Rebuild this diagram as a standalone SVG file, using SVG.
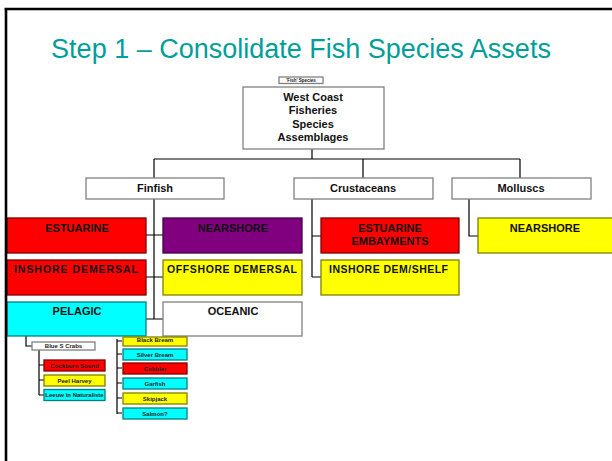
<svg xmlns="http://www.w3.org/2000/svg" width="612" height="461" viewBox="0 0 612 461">
<style>
text{font-family:"Liberation Sans",Arial,sans-serif;font-weight:bold;fill:#111;text-anchor:middle}
.title{font-weight:normal;font-size:27px;fill:#009E9A}
.hdr{font-size:11px}
.big{font-size:11px}
.mid{font-size:10.5px}
.sm{font-size:6px;fill:#222}
.wb{fill:#fff;stroke:#808080;stroke-width:1.3}
.red{fill:#FF0000;stroke:#800000;stroke-width:1.3}
.yel{fill:#FFFF00;stroke:#808000;stroke-width:1.3}
.cya{fill:#00FFFF;stroke:#008080;stroke-width:1.3}
.pur{fill:#800080;stroke:#400040;stroke-width:1.3}
.ln{fill:none;stroke:#000;stroke-width:1.2}
</style>
<rect width="612" height="461" fill="#fff"/>
<text class="title" x="301" y="58">Step 1 – Consolidate Fish Species Assets</text>

<g id="connectors" class="ln">
<path d="M312 149V159M154 159H520M154 159V178M363 159V178M520 159V178"/>
<path d="M154 199V319M146 235H163M146 277H163M146 319H163"/>
<path d="M312 199V277M312 236H321M312 277H321"/>
<path d="M469 199V236H478"/>
<path d="M26 336V346H32M39 350V395M39 365H44M39 380H44M39 395H44"/>
<path d="M117 339V414M117 341H122M117 354H122M117 368H122M117 383H122M117 398H122M117 413H122"/>
</g>

<g id="fish-species"><rect class="wb" x="279" y="77" width="44" height="6.5" stroke-width="0.8"/><text x="301" y="82" style="font-size:4.5px">'Fish' Species</text></g>
<g id="west-coast"><rect class="wb" x="243" y="87" width="141" height="62"/>
<text class="hdr" x="313" y="100.5">West Coast</text><text class="hdr" x="313" y="114">Fisheries</text><text class="hdr" x="313" y="127.5">Species</text><text class="hdr" x="313" y="141">Assemblages</text></g>

<g id="finfish"><rect class="wb" x="86" y="178" width="138" height="21"/><text class="hdr" x="155" y="192">Finfish</text></g>
<g id="crustaceans"><rect class="wb" x="294" y="178" width="139" height="21"/><text class="hdr" x="363" y="192">Crustaceans</text></g>
<g id="molluscs"><rect class="wb" x="452" y="178" width="139" height="21"/><text class="hdr" x="521" y="192">Molluscs</text></g>

<g id="estuarine"><rect class="red" x="7" y="218" width="139" height="35"/><text class="big" x="77" y="232">ESTUARINE</text></g>
<g id="nearshore-fin"><rect class="pur" x="163" y="218" width="139" height="35"/><text class="big" x="233" y="232">NEARSHORE</text></g>
<g id="inshore-demersal"><rect class="red" x="7" y="260" width="139" height="35"/><text class="mid" x="76" y="273" textLength="124" lengthAdjust="spacing">INSHORE DEMERSAL</text></g>
<g id="offshore-demersal"><rect class="yel" x="163" y="260" width="139" height="35"/><text class="mid" x="232" y="273" textLength="130" lengthAdjust="spacing">OFFSHORE DEMERSAL</text></g>
<g id="pelagic"><rect class="cya" x="7" y="302" width="139" height="34"/><text class="big" x="77" y="315">PELAGIC</text></g>
<g id="oceanic"><rect class="wb" x="163" y="302" width="139" height="34"/><text class="big" x="233" y="315">OCEANIC</text></g>

<g id="estuarine-embayments"><rect class="red" x="321" y="218" width="138" height="35"/><text class="big" x="390" y="232">ESTUARINE</text><text class="big" x="390" y="245">EMBAYMENTS</text></g>
<g id="inshore-dem-shelf"><rect class="yel" x="321" y="260" width="138" height="35"/><text class="mid" x="388.5" y="273" textLength="119" lengthAdjust="spacing">INSHORE DEM/SHELF</text></g>
<g id="nearshore-moll"><rect class="yel" x="478" y="218" width="135" height="35"/><text class="big" x="545" y="232">NEARSHORE</text></g>

<g id="blue-s-crabs"><rect class="wb" x="32" y="342" width="63" height="8" stroke-width="0.8"/><text class="sm" x="63.5" y="348">Blue S Crabs</text></g>
<g id="cockburn"><rect class="red" x="44" y="360" width="61" height="11" stroke-width="0.8"/><text class="sm" x="74.5" y="367.5">Cockburn Sound</text></g>
<g id="peel"><rect class="yel" x="44" y="375" width="61" height="11" stroke-width="0.8"/><text class="sm" x="74.5" y="382.5">Peel Harvey</text></g>
<g id="leeuw"><rect class="cya" x="44" y="389.5" width="61" height="11" stroke-width="0.8"/><text class="sm" x="74.5" y="397">Leeuw in Naturaliste</text></g>

<g id="black-bream"><rect class="yel" x="123" y="337" width="64" height="9" stroke-width="0.8"/><text class="sm" x="155" y="341.5">Black Bream</text></g>
<g id="silver-bream"><rect class="cya" x="123" y="349" width="64" height="11" stroke-width="0.8"/><text class="sm" x="155" y="356.5">Silver Bream</text></g>
<g id="cobbler"><rect class="red" x="123" y="363" width="64" height="11" stroke-width="0.8"/><text class="sm" x="155" y="370.5">Cobbler</text></g>
<g id="garfish"><rect class="cya" x="123" y="378" width="64" height="11" stroke-width="0.8"/><text class="sm" x="155" y="385.5">Garfish</text></g>
<g id="skipjack"><rect class="yel" x="123" y="393" width="64" height="11" stroke-width="0.8"/><text class="sm" x="155" y="400.5">Skipjack</text></g>
<g id="salmon"><rect class="cya" x="123" y="408" width="64" height="11" stroke-width="0.8"/><text class="sm" x="155" y="415.5">Salmon?</text></g>

<path d="M4.5 9H612M6 8V461" fill="none" stroke="#000" stroke-width="2.6"/>
</svg>
